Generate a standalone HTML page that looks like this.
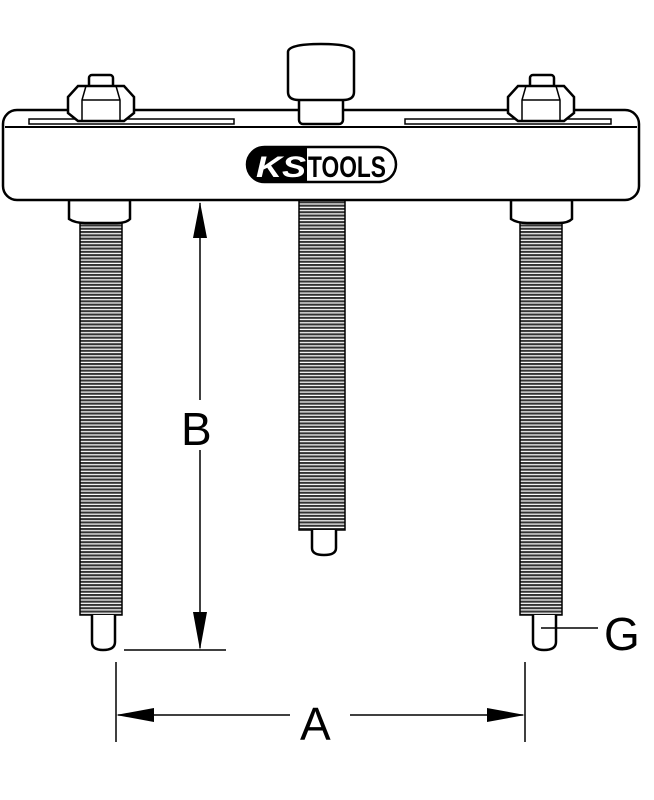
<!DOCTYPE html>
<html><head><style>html,body{margin:0;padding:0;background:#fff}svg{display:block}</style></head>
<body>
<svg width="654" height="800" viewBox="0 0 654 800" xmlns="http://www.w3.org/2000/svg">
<defs>
<pattern id="th" x="0" y="0" width="10" height="3.3" patternUnits="userSpaceOnUse">
<rect width="10" height="3.3" fill="#fff"/>
<rect y="0" width="10" height="2.1" fill="#333"/>
</pattern>
</defs>
<g stroke="#000" stroke-width="2.5" fill="#fff">
<!-- threaded rods -->
<rect x="80" y="222" width="42" height="393" fill="url(#th)" stroke-width="1.5"/>
<rect x="299" y="200" width="46" height="330" fill="url(#th)" stroke-width="1.5"/>
<rect x="520" y="222" width="42" height="393" fill="url(#th)" stroke-width="1.5"/>
<!-- tips -->
<path d="M92 615 V642 Q92 650 103 650 Q115 650 115 642 V615"/>
<path d="M312 530 V548 Q312 555 324 555 Q336 555 336 548 V530"/>
<path d="M533 615 V642 Q533 650 544 650 Q556 650 556 642 V615"/>
<!-- collars -->
<path d="M69 200 V219 Q75 223 85 223 H117 Q126 223 130 219 V200Z"/>
<path d="M511 200 V219 Q517 223 527 223 H559 Q568 223 572 219 V200Z"/>
<!-- bar -->
<rect x="3" y="110" width="636" height="90" rx="14"/>
<line x1="5" y1="127" x2="637" y2="127" stroke-width="2"/>
<rect x="29" y="119" width="205" height="5" stroke-width="1.5"/>
<rect x="405" y="119" width="206" height="5" stroke-width="1.5"/>
<!-- nuts -->
<rect x="89" y="75" width="24" height="14" rx="3"/>
<path d="M68 97 L78 86 H124 L134 97 V113 L124 121 H78 L68 113Z"/>
<path d="M86 86 L82 100 V121 M116 86 L120 100 V121 M82 100 H120" fill="none" stroke-width="1.5"/>
<rect x="530" y="75" width="24" height="14" rx="3"/>
<path d="M508 97 L518 86 H564 L574 97 V113 L564 121 H518 L508 113Z"/>
<path d="M526 86 L522 100 V121 M556 86 L560 100 V121 M522 100 H560" fill="none" stroke-width="1.5"/>
<!-- knob -->
<rect x="299" y="94" width="44" height="30" rx="4"/>
<path d="M288 52 Q288 44 321 44 Q354 44 354 52 V92 Q354 100 343 100 H299 Q288 100 288 92Z"/>
</g>
<!-- logo -->
<rect x="247" y="147" width="149" height="35" rx="17.5" fill="#fff" stroke="#000" stroke-width="2.5"/>
<path d="M264.5 147 H307 V182 H264.5 A17.5 17.5 0 0 1 264.5 147Z" fill="#000"/>
<text x="256" y="177" font-family="Liberation Sans, sans-serif" font-style="italic" font-weight="bold" font-size="30" fill="#fff" textLength="50" lengthAdjust="spacingAndGlyphs">KS</text>
<text x="308" y="177" font-family="Liberation Sans, sans-serif" font-weight="bold" font-size="30" fill="#000" textLength="78" lengthAdjust="spacingAndGlyphs">TOOLS</text>
<!-- dimensions -->
<g stroke="#000" stroke-width="1.5" fill="none">
<line x1="200" y1="203" x2="200" y2="400"/>
<line x1="200" y1="450" x2="200" y2="648"/>
<line x1="124" y1="650" x2="226" y2="650"/>
<line x1="116" y1="662" x2="116" y2="742"/>
<line x1="525" y1="662" x2="525" y2="742"/>
<line x1="118" y1="715" x2="290" y2="715"/>
<line x1="350" y1="715" x2="523" y2="715"/>
<line x1="541" y1="628" x2="598" y2="628"/>
</g>
<path d="M200 202 L193 238 H207Z M200 650 L193 612 H207Z M116 715 L154 708 V722Z M525 715 L487 708 V722Z" fill="#000"/>
<g font-family="Liberation Sans, sans-serif" font-size="46" fill="#000">
<text x="181" y="445">B</text>
<text x="300" y="740">A</text>
<text x="604" y="650">G</text>
</g>
</svg>
</body></html>
